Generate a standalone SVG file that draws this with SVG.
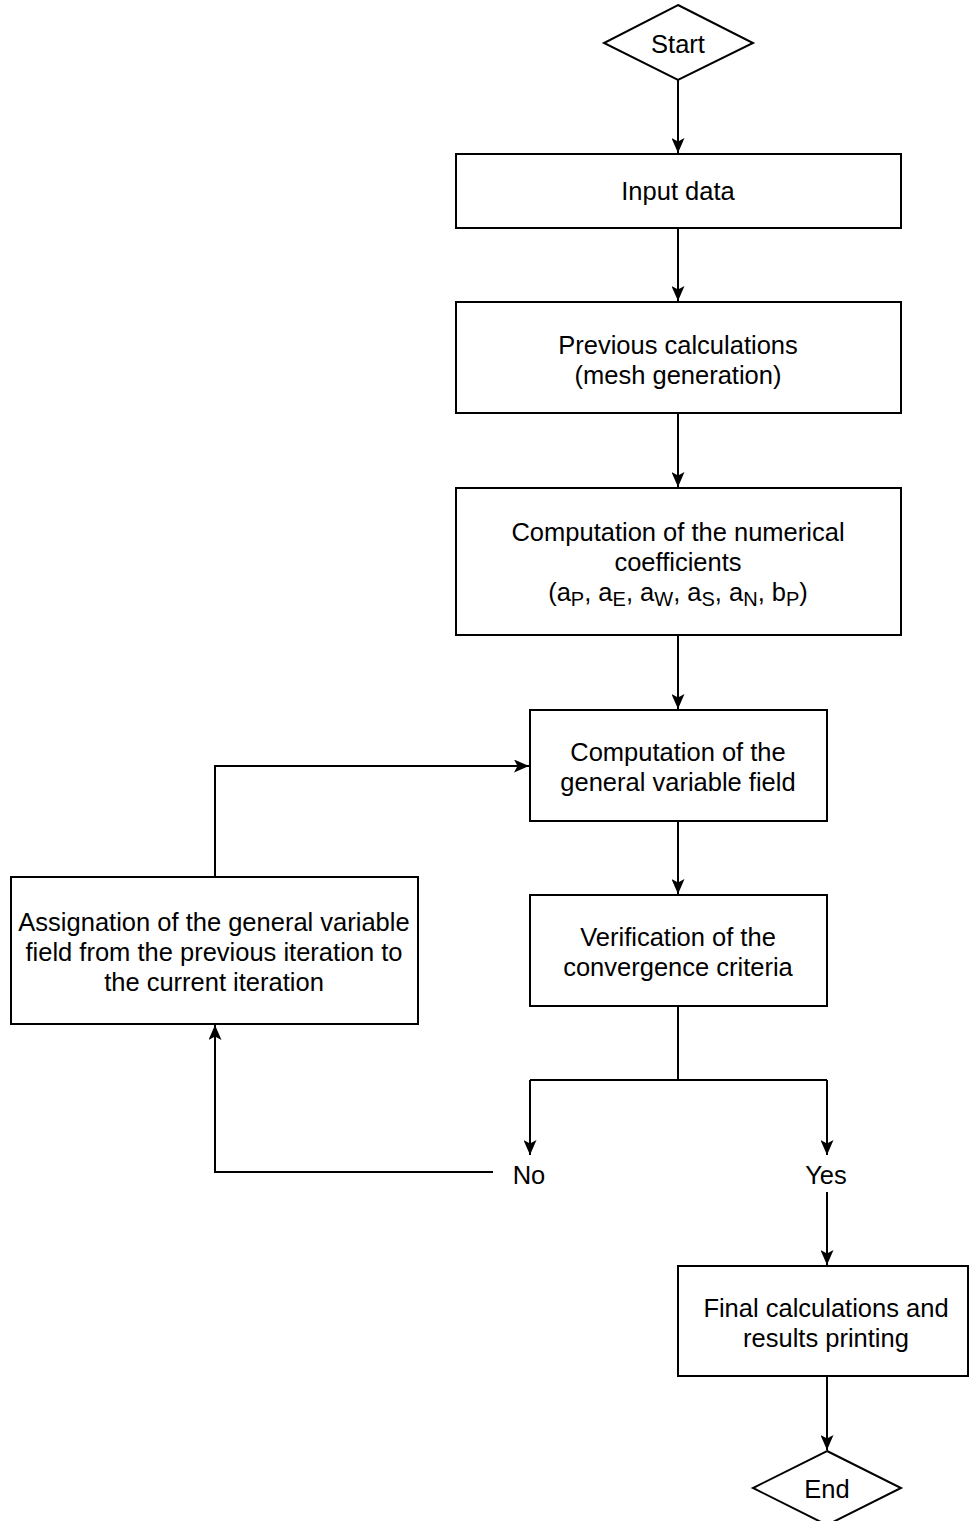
<svg xmlns="http://www.w3.org/2000/svg" width="969" height="1521" viewBox="0 0 969 1521">
<style>
.n{fill:#fff;stroke:#000;stroke-width:2}
.c{fill:none;stroke:#000;stroke-width:2}
text{font-family:"Liberation Sans",Arial,sans-serif;font-size:25.5px;fill:#000;text-anchor:middle}
.s{font-size:20px}
</style>
<defs>
<marker id="a" viewBox="0 0 15 13" refX="15" refY="6.5" markerWidth="15" markerHeight="13" markerUnits="userSpaceOnUse" orient="auto">
<path d="M0,0 L15,6.5 L0,13 L3.5,6.5 Z" fill="#000"/>
</marker>
</defs>
<rect width="969" height="1521" fill="#fff"/>
<g id="connectors">
<path class="c" d="M678,80 V153" marker-end="url(#a)"/>
<path class="c" d="M678,228 V301" marker-end="url(#a)"/>
<path class="c" d="M678,413 V487" marker-end="url(#a)"/>
<path class="c" d="M678,635 V709" marker-end="url(#a)"/>
<path class="c" d="M678,821 V894" marker-end="url(#a)"/>
<path class="c" d="M678,1006 V1080"/>
<path class="c" d="M530,1080 H827"/>
<path class="c" d="M530,1080 V1155" marker-end="url(#a)"/>
<path class="c" d="M827,1080 V1155" marker-end="url(#a)"/>
<path class="c" d="M827,1192 V1265" marker-end="url(#a)"/>
<path class="c" d="M827,1376 V1450" marker-end="url(#a)"/>
<path class="c" d="M493,1172 H215 V1025" marker-end="url(#a)"/>
<path class="c" d="M215,877 V766 H529" marker-end="url(#a)"/>
</g>
<g id="start">
<path class="n" d="M678,5 L753,43 L678,80 L604,43 Z"/>
<text x="678" y="53">Start</text>
</g>
<g id="input">
<rect class="n" x="456" y="154" width="445" height="74"/>
<text x="678" y="200">Input data</text>
</g>
<g id="previous">
<rect class="n" x="456" y="302" width="445" height="111"/>
<text x="678" y="354">Previous calculations</text>
<text x="678" y="384">(mesh generation)</text>
</g>
<g id="coefficients">
<rect class="n" x="456" y="488" width="445" height="147"/>
<text x="678" y="541">Computation of the numerical</text>
<text x="678" y="571">coefficients</text>
<text x="678" y="601">(a<tspan class="s" dy="5">P</tspan><tspan dy="-5">, a</tspan><tspan class="s" dy="5">E</tspan><tspan dy="-5">, a</tspan><tspan class="s" dy="5">W</tspan><tspan dy="-5">, a</tspan><tspan class="s" dy="5">S</tspan><tspan dy="-5">, a</tspan><tspan class="s" dy="5">N</tspan><tspan dy="-5">, b</tspan><tspan class="s" dy="5">P</tspan><tspan dy="-5">)</tspan></text>
</g>
<g id="general">
<rect class="n" x="530" y="710" width="297" height="111"/>
<text x="678" y="761">Computation of the</text>
<text x="678" y="791">general variable field</text>
</g>
<g id="verification">
<rect class="n" x="530" y="895" width="297" height="111"/>
<text x="678" y="946">Verification of the</text>
<text x="678" y="976">convergence criteria</text>
</g>
<g id="assignation">
<rect class="n" x="11" y="877" width="407" height="147"/>
<text x="214" y="931">Assignation of the general variable</text>
<text x="214" y="961">field from the previous iteration to</text>
<text x="214" y="991">the current iteration</text>
</g>
<g id="no">
<text x="529" y="1184">No</text>
</g>
<g id="yes">
<text x="826" y="1184">Yes</text>
</g>
<g id="final">
<rect class="n" x="678" y="1266" width="290" height="110"/>
<text x="826" y="1317">Final calculations and</text>
<text x="826" y="1347">results printing</text>
</g>
<g id="end">
<path class="n" d="M827,1451 L901,1488 L827,1525 L753,1488 Z"/>
<text x="827" y="1498">End</text>
</g>
</svg>
